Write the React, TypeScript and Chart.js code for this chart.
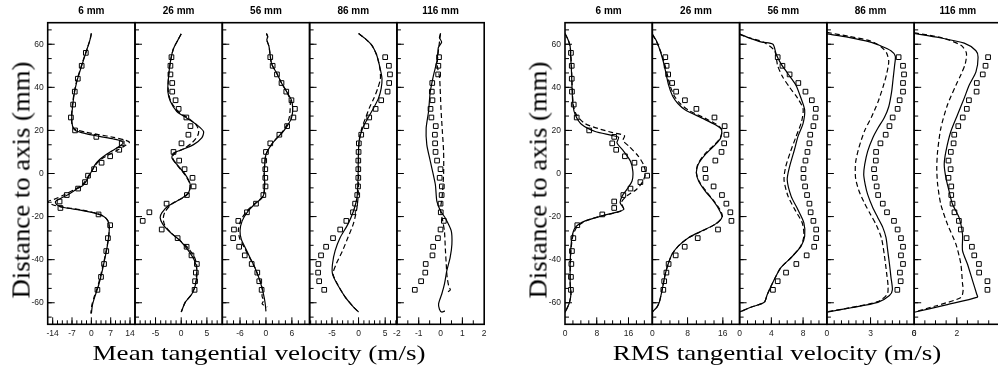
import React, { useEffect, useRef } from 'react';
import { Chart, registerables } from 'chart.js';
Chart.register(...registerables);

// ---------- data ----------
const panelTitles = ['6 mm', '26 mm', '56 mm', '86 mm', '116 mm'];
const yTickLabels = [-60, -40, -20, 0, 20, 40, 60];

const meanRanges = [[-15.8, 15.8], [-9, 8], [-10.1, 10.1], [-9.2, 7.2], [-2, 2]];
const meanTicks = [[-14, -7, 0, 7, 14], [-5, 0, 5], [-6, 0, 6], [-5, 0, 5], [-2, -1, 0, 1, 2]];
const rmsRanges = [[0, 22], [0, 19.8], [0, 11], [0, 6], [0, 4.1]];
const rmsTicks = [[0, 8, 16], [0, 8, 16], [0, 4, 8], [0, 3, 6], [0, 2]];

// measurement heights (mm)
const expYA = [56, 50, 44, 38, 32, 26, 20, 17, 14, 11, 8, 5, 2, -1, -4, -7, -10, -13, -16, -19, -24, -30, -36, -42, -48, -54];
const expYB = [54, 50, 46, 42, 38, 34, 30, 26, 22, 18, 14, 10, 6, 2, -2, -6, -10, -14, -18, -22, -26, -30, -34, -38, -42, -46, -50, -54];

// mean tangential velocity, experiment
const mt6Exp = [-2.0, -3.5, -4.9, -6.0, -6.6, -7.4, -5.9, 1.8, 11.0, 10.1, 6.8, 3.7, 1.0, -1.2, -2.3, -4.8, -8.9, -11.5, -11.2, 2.6, 6.8, 6.0, 5.4, 4.6, 3.5, 2.2];
const mt26Exp = [-1.9, -2.1, -2.1, -1.75, -1.75, -1.1, -0.5, 1.0, 1.8, 1.4, 0.05, -1.5, -0.4, 0.65, 2.2, 2.4, 1.1, -2.85, -6.2, -7.5, -3.8, -0.7, 1.05, 2.0, 3.05, 2.85, 2.7, 2.6];
const mt56Exp = [1.0, 1.55, 2.55, 3.6, 4.7, 5.9, 6.7, 6.35, 4.9, 3.1, 1.0, 0, -0.4, -0.15, -0.15, -0.1, -0.6, -2.3, -4.4, -6.4, -7.4, -7.6, -6.2, -4.9, -3.3, -2.0, -1.55, -1.0];
const mt86Exp = [5.0, 5.7, 5.9, 5.75, 5.45, 4.25, 3.2, 2.0, 1.45, 0.5, 0.05, 0, -0.05, -0.05, -0.05, -0.1, -0.25, -0.65, -1.05, -2.3, -3.45, -4.8, -6.1, -7.05, -7.55, -7.6, -7.4, -6.45];
const mt116Exp = [-0.07, -0.1, -0.11, -0.38, -0.4, -0.37, -0.46, -0.42, -0.22, -0.26, -0.25, -0.23, -0.16, 0.0, -0.04, 0.06, 0.05, 0.0, 0.01, 0.15, 0.0, -0.12, -0.34, -0.37, -0.68, -0.7, -0.89, -1.18];

// mean tangential velocity, simulation (solid) and simulation (dashed): [velocity, height]
const mt6Solid = [[0,65],[-0.5,62],[-1.5,58],[-2.5,54],[-4,48],[-5.2,43],[-6.2,37],[-6.8,31],[-7.1,26],[-6.8,22],[-5.8,20],[-2,18.5],[3,17.2],[8,16],[11,15],[11.5,14],[10,12.5],[7.5,10.5],[5,8.5],[3,6.5],[1.3,4],[0.3,1.5],[-0.8,-1],[-1.8,-3.5],[-3,-5.5],[-5,-7],[-8,-9.5],[-11,-11.5],[-13,-13],[-12.5,-14.5],[-10,-15.8],[-4,-17],[1.5,-18.5],[4.5,-20],[6,-22],[6.5,-25],[6.2,-30],[5.6,-35],[4.8,-40],[3.8,-46],[2.6,-52],[1.3,-57],[0.4,-61],[0,-65]];
const mt6Dash = [[0,65],[-0.5,62],[-1.5,58],[-2.6,54],[-4.1,48],[-5.3,43],[-6.3,37],[-6.9,31],[-7.2,26],[-6.9,22],[-6,20.5],[-2,19.2],[3,18],[8,16.8],[12,15.6],[13.8,14.5],[12,12.8],[9,10.5],[6,8.5],[3.5,6.5],[1.5,4],[0.3,1.5],[-1,-1],[-2.2,-3.5],[-3.5,-5.5],[-6,-7.3],[-10,-10],[-13.5,-12],[-15.8,-13],[-14,-14.5],[-11,-15.5],[-4,-16.8],[1.5,-18.3],[4.5,-19.8],[6,-22],[6.5,-25],[6.2,-30],[5.5,-35],[4.7,-40],[3.6,-46],[2.4,-52],[1.1,-57],[0.2,-61],[-0.2,-65]];
const mt26Solid = [[0,64.8],[-0.5,62.6],[-1.5,58],[-2.1,52],[-2.5,44],[-2.6,38],[-2.1,33.4],[-0.85,28.8],[1.1,25.7],[3.05,22.6],[4.35,19.5],[4.0,16.5],[2.4,13.4],[0.1,11],[-1.5,9.5],[-1.8,7.2],[-0.85,4.2],[0.8,-0.5],[1.75,-5],[1.4,-9],[-0.2,-12],[-2.5,-15],[-3.75,-18.2],[-4.1,-20.5],[-3.6,-23.5],[-2.1,-27.4],[-0.2,-31.2],[1.4,-35.8],[2.6,-40.5],[3.05,-45],[2.85,-51],[2.1,-55.8],[0.8,-59.7],[0,-64.3]];
const mt26Dash = [[0,64.8],[-0.5,62.6],[-1.5,58],[-2.1,52],[-2.5,44],[-2.5,38],[-2.0,33.4],[-0.6,28.8],[1.4,25.7],[2.9,22.6],[3.4,20],[3.2,17.5],[2.2,14.5],[0.5,11.5],[-1.2,9.5],[-1.7,7.5],[-0.9,4.2],[0.7,-0.5],[1.7,-5],[1.5,-9],[0.2,-11.5],[-1.8,-14],[-3.2,-18],[-3.5,-21],[-3.2,-24],[-2.0,-27.5],[-0.3,-31],[1.3,-34.5],[2.5,-38.5],[3.0,-42],[3.0,-46],[2.8,-51],[2.1,-55.8],[0.8,-59.7],[0,-64.3]];
const mt56Solid = [[0.1,65],[0.4,63.5],[0.2,62],[0.7,59],[1.3,51],[2.5,46.5],[3.6,42],[4.8,38],[5.9,34],[6.2,30],[5.9,25.7],[4.9,22],[3.7,18.8],[2.2,15.7],[1.0,12.6],[0.0,8.8],[-0.3,4],[-0.4,-0.5],[-0.3,-5],[-0.5,-9.7],[-1.0,-11.5],[-2.6,-14.3],[-4.1,-17.4],[-5.5,-22],[-6.0,-26.6],[-5.7,-30.6],[-4.9,-34],[-3.7,-39],[-2.6,-43.5],[-1.4,-49.7],[-0.6,-55.8],[-0.2,-60],[0.0,-64]];
const mt56Dash = [[0.1,65],[0.4,63.5],[0.2,62],[0.7,59],[1.3,51],[2.5,46.5],[3.6,42],[4.8,38],[5.6,34],[5.6,30],[5.4,26],[4.7,22],[3.6,18.8],[2.2,15.7],[1.0,12.6],[0.0,8.8],[-0.3,4],[-0.4,-0.5],[-0.3,-5],[-0.5,-9.7],[-1.1,-11.5],[-2.8,-14.3],[-4.4,-17.4],[-5.9,-22],[-6.4,-26.6],[-6.0,-30.6],[-5.1,-34],[-3.8,-39],[-2.6,-43.5],[-1.4,-49.7],[-0.8,-54],[-0.9,-57],[-0.5,-59],[-0.9,-60.5],[0.3,-62]];
const mt86Solid = [[0,65],[1.25,62.6],[2.5,59.5],[3.4,55],[4.05,48.8],[4.4,44],[4.25,39.5],[3.75,35],[2.8,30.3],[1.75,25.7],[0.75,21],[0.1,15],[-0.05,7.2],[-0.1,-2],[-0.3,-11.2],[-0.95,-17.4],[-2.0,-23.5],[-3.45,-29.7],[-4.4,-35.8],[-4.9,-42],[-4.9,-46.6],[-4.05,-51.2],[-2.5,-57.4],[-0.95,-62],[0,-64.3]];
const mt86Dash = [[0,65],[1.25,62.6],[2.5,59.5],[3.4,55],[4.0,48.8],[4.1,44],[3.6,39.5],[2.9,35],[2.0,30.3],[1.3,25.7],[0.6,21],[0.1,15],[0,7.2],[0,-2],[-0.1,-11.2],[-0.4,-17.4],[-1.0,-23.5],[-2.0,-29.7],[-3.0,-35.8],[-4.2,-42],[-4.8,-46.6],[-4.0,-51.2],[-2.5,-57.4],[-0.95,-62],[0,-64.3]];
const mt116Solid = [[0,65],[-0.05,63],[0.05,61],[-0.1,58.5],[-0.12,56.5],[-0.17,52],[-0.32,45.7],[-0.47,38],[-0.55,28.8],[-0.66,21],[-0.63,13.4],[-0.47,5.7],[-0.24,-5],[-0.17,-12.8],[0,-17.4],[0.21,-20.5],[0.49,-26.6],[0.52,-32.8],[0.44,-38.9],[0.29,-45],[0.18,-51.2],[0.06,-55.8],[-0.09,-60.5],[-0.05,-63],[0.05,-64.3],[0.2,-63.8]];
const mt116Dash = [[0,65],[-0.05,61],[-0.12,55],[-0.15,50],[-0.05,45],[-0.02,40],[0.02,30],[0.08,20],[0.14,10],[0.14,0],[0.08,-10],[0.0,-17],[0.1,-22],[0.18,-27],[0.22,-35],[0.26,-42],[0.3,-48],[0.38,-52.5],[0.45,-54],[0.25,-55.5]];

// RMS tangential velocity, experiment
const rms6Exp = [1.5, 1.7, 1.7, 1.75, 2.2, 2.95, 6.1, 12.4, 11.9, 12.9, 15.1, 17.5, 19.9, 20.7, 19.0, 16.5, 14.7, 12.4, 12.4, 9.4, 3.1, 2.1, 1.75, 1.6, 1.5, 1.5];
const rms26Exp = [2.95, 3.25, 3.6, 4.5, 5.4, 7.4, 10.0, 14.1, 16.4, 16.8, 16.3, 15.7, 14.3, 12.0, 12.1, 13.9, 15.8, 16.8, 17.7, 17.95, 14.9, 10.3, 7.35, 5.3, 3.7, 3.2, 2.7, 2.5];
const rms56Exp = [4.8, 5.4, 6.3, 7.4, 8.3, 9.1, 9.6, 9.55, 9.3, 8.9, 8.8, 8.55, 8.3, 8.05, 8.05, 8.25, 8.5, 8.8, 8.95, 9.3, 9.65, 9.65, 9.4, 8.45, 7.15, 5.85, 4.8, 4.2];
const rms86Exp = [4.93, 5.23, 5.3, 5.23, 5.23, 5.0, 4.86, 4.52, 4.3, 4.04, 3.68, 3.38, 3.36, 3.24, 3.29, 3.42, 3.52, 3.84, 4.13, 4.61, 4.86, 5.09, 5.23, 5.09, 5.23, 5.02, 5.07, 4.84];
const rms116Exp = [3.47, 3.35, 3.22, 2.94, 2.93, 2.57, 2.47, 2.28, 2.07, 1.88, 1.85, 1.72, 1.61, 1.71, 1.61, 1.74, 1.74, 1.8, 1.89, 2.1, 2.19, 2.46, 2.71, 2.82, 3.04, 3.05, 3.44, 3.44];

// RMS tangential velocity, simulations
const rms6Solid = [[0,65],[0.8,62],[1.3,59],[1.4,55],[1.6,48.8],[1.75,41],[2.0,31.8],[2.6,27.2],[4.3,22.6],[7.6,19.5],[11.8,17.7],[13.5,16.8],[13.1,14.2],[14.8,10.3],[16.5,5.7],[17.1,1],[16.9,-3.5],[15.6,-7.4],[14.4,-10.5],[13.9,-13.5],[14.8,-16.6],[13.5,-17.7],[9.3,-19.7],[5.1,-22],[2.6,-25],[1.75,-29.7],[1.35,-38.9],[1.3,-51],[1.5,-56],[1.1,-60],[0.4,-63],[0,-64.5]];
const rms6Dash = [[0,65],[0.8,62],[1.3,59],[1.5,55],[1.65,48.8],[1.8,41],[2.1,31.8],[2.9,27.2],[5,23.2],[9,20.5],[12,19],[15,17.5],[14.6,15.3],[16.2,12.5],[18.5,8],[19.8,4],[20.3,0],[19.5,-4],[18,-7.4],[15.5,-10.5],[14.2,-13.5],[14.8,-16.6],[13.5,-17.8],[9.5,-19.6],[5.5,-21.8],[3,-24.8],[1.9,-29.7],[1.4,-38.9],[1.3,-51],[1.5,-56],[1.1,-60],[0.4,-63],[0,-64.5]];
const rms26Solid = [[0,64.8],[0.9,61.7],[2.0,55.6],[2.8,49.4],[3.7,41],[4.6,36],[5.8,32.5],[7.5,29.5],[11.3,25.7],[14.3,22.6],[15.7,20.3],[15.5,16.5],[14.3,13.4],[12.0,8.8],[10.4,4.2],[10.0,0.3],[10.5,-3.5],[12.0,-8.2],[13.9,-12.8],[15.1,-16.6],[15.8,-20.2],[14.3,-23.5],[11.3,-26.6],[8.3,-29.7],[6.0,-33.5],[4.5,-37.4],[3.6,-42],[2.95,-46.6],[2.2,-54.3],[1.6,-59.7],[1.05,-62],[0,-64.3]];
const rms26Dash = [[0,64.5],[0.9,61.5],[2.1,55.5],[3.0,49.4],[4.0,41],[5.0,36],[6.3,32.5],[8.1,29.5],[11.9,25.7],[14.7,22.6],[15.8,20.3],[15.4,16.5],[14.1,13.4],[11.8,8.8],[10.3,4.2],[10.0,0.3],[10.6,-3.5],[12.2,-8.2],[14.0,-12.8],[15.3,-16.6],[15.9,-20],[14.5,-23.3],[11.4,-26.6],[8.3,-29.7],[6.0,-33.5],[4.5,-37.4],[3.6,-42],[2.95,-46.6],[2.2,-54.3],[1.6,-59.7],[1.05,-62],[0,-64.3]];
const rms56Solid = [[0,64.8],[1.0,63.2],[2.8,61],[4.2,60],[4.6,55.5],[5.2,51],[6.1,46.3],[7.1,41],[7.75,34.8],[8.2,29.4],[8.0,23.3],[7.35,17.1],[6.9,10.9],[6.3,3.2],[6.0,-2.9],[6.5,-10.6],[7.35,-16.8],[8.1,-22.9],[8.2,-29.1],[7.75,-33.7],[6.5,-39],[5.2,-43.7],[4.4,-49],[3.5,-56],[3.1,-59.8],[1.5,-62],[0,-64.3]];
const rms56Dash = [[0,64.5],[1.2,63],[3.0,61],[4.4,57],[4.8,50],[5.4,45],[6.3,40],[7.3,35],[8.0,30],[7.8,24],[7.1,17],[6.4,10],[5.8,3],[5.6,-3],[6.1,-10.5],[7.0,-17],[7.9,-23],[8.1,-29],[7.7,-33.7],[6.5,-39],[5.2,-43.7],[4.4,-49],[3.5,-56],[3.1,-59.8],[1.5,-62],[0,-64.3]];
const rms86Solid = [[0,64.8],[1.5,63.2],[3.0,61],[3.6,59.5],[4.4,57],[4.7,54.5],[4.65,50],[4.55,44],[4.45,38],[4.25,31],[3.95,26],[3.5,21],[3.15,16.5],[2.8,10.3],[2.6,4.2],[2.53,-0.5],[2.63,-5],[2.8,-9.7],[3.15,-15.8],[3.5,-20.5],[3.84,-25],[4.06,-29.7],[4.18,-35.8],[4.3,-42],[4.4,-48],[4.5,-54],[4.3,-56.6],[3.5,-59.8],[1.5,-62.5],[0,-64.4]];
const rms86Dash = [[0,65.5],[1.5,63.7],[3.0,61.5],[3.7,59],[4.1,56],[4.25,52],[4.1,46],[3.85,40],[3.5,33],[3.05,26],[2.6,20],[2.2,12],[1.97,5],[1.97,-2],[2.2,-8],[2.6,-14],[3.0,-19],[3.4,-24],[3.75,-30],[3.95,-38],[4.1,-46],[4.2,-52],[4.15,-56],[3.5,-59.5],[1.6,-62.3],[0,-64.2]];
const rms116Solid = [[0,65],[1.2,63],[2.35,60.5],[2.9,57],[3.0,54],[2.9,47.2],[2.58,41],[2.35,35],[2.03,27.2],[1.72,19.5],[1.49,10.3],[1.41,4.2],[1.49,-2],[1.64,-8.2],[1.8,-14.3],[2.11,-20.5],[2.27,-28.2],[2.27,-35.8],[2.5,-42],[2.74,-49.7],[2.93,-55.8],[2.97,-57.4],[1.5,-61],[0,-64.4]];
const rms116Dash = [[0,65.3],[1.3,63],[2.2,59.5],[2.45,56],[2.4,51],[2.2,46],[1.96,41],[1.56,31.8],[1.25,21],[1.1,10.3],[1.06,2.6],[1.1,-5],[1.25,-14.3],[1.56,-23.5],[1.96,-32.8],[2.19,-42],[2.27,-51.2],[2.3,-54],[2.2,-57.5],[1.0,-61.5],[0,-64.3]];

const meanSeries = [
  [mt6Exp, expYA, mt6Solid, mt6Dash],
  [mt26Exp, expYB, mt26Solid, mt26Dash],
  [mt56Exp, expYB, mt56Solid, mt56Dash],
  [mt86Exp, expYB, mt86Solid, mt86Dash],
  [mt116Exp, expYB, mt116Solid, mt116Dash],
];
const rmsSeries = [
  [rms6Exp, expYA, rms6Solid, rms6Dash],
  [rms26Exp, expYB, rms26Solid, rms26Dash],
  [rms56Exp, expYB, rms56Solid, rms56Dash],
  [rms86Exp, expYB, rms86Solid, rms86Dash],
  [rms116Exp, expYB, rms116Solid, rms116Dash],
];
const meanMinorStep = [1.75, 1, 1.5, 1, 0.5];
const rmsMinorStep = [2, 2, 1, 0.5, 0.5];

// ---------- layout ----------
const PW = 87.3;
const PLOT_TOP = 22.7;
const PLOT_BOTTOM = 324.3;
const H = 369;
const X_AXIS_H = 14;
const Y_AXIS_W = 36;
const SIDE = 14;

function steps(min: number, max: number, step: number) {
  const out: number[] = [];
  const start = Math.ceil(min / step - 1e-9) * step;
  for (let v = start; v <= max + 1e-9; v += step) out.push(+v.toFixed(4));
  return out;
}

const framePlugin = {
  id: 'panelFrame',
  afterDatasetsDraw(chart: any, _args: any, opts: any) {
    const { ctx, chartArea: a } = chart;
    const xs = chart.scales.x;
    const ys = chart.scales.y;
    ctx.save();
    ctx.strokeStyle = '#000';
    ctx.lineWidth = 1;
    ctx.beginPath();
    const drawX = (vals: number[], len: number) => {
      for (const v of vals) {
        const p = xs.getPixelForValue(v);
        if (p < a.left + 0.5 || p > a.right - 0.5) continue;
        ctx.moveTo(p, a.bottom);
        ctx.lineTo(p, a.bottom - len);
      }
    };
    const drawY = (vals: number[], len: number) => {
      for (const v of vals) {
        const p = ys.getPixelForValue(v);
        if (p < a.top + 0.5 || p > a.bottom - 0.5) continue;
        ctx.moveTo(a.left, p);
        ctx.lineTo(a.left + len, p);
      }
    };
    drawX(opts.xMajor, 7);
    drawX(opts.xMinor, 4);
    drawY(opts.yMajor, 7);
    drawY(opts.yMinor, 4);
    ctx.stroke();
    ctx.lineWidth = 1.6;
    ctx.strokeRect(a.left, a.top, a.right - a.left, a.bottom - a.top);
    ctx.restore();
  },
};

type Spec = {
  key: string;
  panelLeft: number;
  first: boolean;
  title: string;
  range: number[];
  ticks: number[];
  minor: number;
  exp: number[];
  expY: number[];
  solid: number[][];
  dash: number[][];
};

function buildSpecs(groupLeft: number, ranges: number[][], ticks: number[][], minor: number[], series: any[], key: string): Spec[] {
  return series.map((s, i) => ({
    key: key + i,
    panelLeft: groupLeft + i * PW,
    first: i === 0,
    title: panelTitles[i],
    range: ranges[i],
    ticks: ticks[i],
    minor: minor[i],
    exp: s[0],
    expY: s[1],
    solid: s[2],
    dash: s[3],
  }));
}

const specs: Spec[] = [
  ...buildSpecs(47.7, meanRanges, meanTicks, meanMinorStep, meanSeries, 'm'),
  ...buildSpecs(565, rmsRanges, rmsTicks, rmsMinorStep, rmsSeries, 'r'),
];

const tickFont = { family: '"Liberation Sans", Arial, sans-serif', size: 8.5 };

function Panel({ spec }: { spec: Spec }) {
  const ref = useRef<HTMLCanvasElement>(null);
  const yW = spec.first ? Y_AXIS_W : 0;
  const canvasLeft = Math.floor(spec.panelLeft - yW - SIDE);
  const padLeft = spec.panelLeft - yW - canvasLeft;
  const canvasWidth = Math.ceil(spec.panelLeft + PW + SIDE) - canvasLeft;
  const padRight = canvasLeft + canvasWidth - (spec.panelLeft + PW);

  useEffect(() => {
    if (!ref.current) return;
    const [xmin, xmax] = spec.range;
    const chart = new Chart(ref.current, {
      type: 'scatter',
      data: {
        datasets: [
          {
            data: spec.solid.map(([x, y]) => ({ x, y })),
            showLine: true,
            borderColor: '#000',
            borderWidth: 1.2,
            pointRadius: 0,
            tension: 0.25,
          },
          {
            data: spec.dash.map(([x, y]) => ({ x, y })),
            showLine: true,
            borderColor: '#000',
            borderWidth: 1.2,
            borderDash: [5, 3],
            pointRadius: 0,
            tension: 0.25,
          },
          {
            data: spec.exp.map((x, i) => ({ x, y: spec.expY[i] })),
            showLine: false,
            pointStyle: 'rect',
            pointRadius: 3.3,
            borderWidth: 1,
            borderColor: '#000',
            backgroundColor: 'rgba(0,0,0,0)',
          },
        ] as any,
      },
      options: {
        animation: false,
        responsive: false,
        maintainAspectRatio: false,
        events: [],
        layout: { padding: { left: padLeft, right: padRight, top: 0, bottom: H - PLOT_BOTTOM - X_AXIS_H } },
        plugins: {
          legend: { display: false },
          tooltip: { enabled: false },
          title: {
            display: true,
            text: spec.title,
            fullSize: false,
            color: '#000',
            font: { family: '"Liberation Sans", Arial, sans-serif', size: 10, weight: 'bold', lineHeight: 1.2 },
            padding: { top: 5.7, bottom: PLOT_TOP - 5.7 - 12 },
          },
          panelFrame: {
            xMajor: spec.ticks,
            xMinor: steps(xmin, xmax, spec.minor),
            yMajor: yTickLabels,
            yMinor: steps(-70, 70, 20 / 3),
          },
        } as any,
        scales: {
          x: {
            type: 'linear',
            min: xmin,
            max: xmax,
            afterBuildTicks: (s: any) => { s.ticks = spec.ticks.map((v) => ({ value: v })); },
            afterFit: (s: any) => { s.height = X_AXIS_H; },
            grid: { display: false, drawTicks: false },
            border: { display: false },
            ticks: {
              autoSkip: false,
              maxRotation: 0,
              padding: 4,
              color: '#222',
              font: tickFont,
              callback: (v: any) => String(v),
            },
          },
          y: {
            type: 'linear',
            min: -70,
            max: 70,
            display: spec.first,
            afterBuildTicks: (s: any) => { s.ticks = yTickLabels.map((v) => ({ value: v })); },
            ...(spec.first ? { afterFit: (s: any) => { s.width = Y_AXIS_W; } } : {}),
            grid: { display: false, drawTicks: false },
            border: { display: false },
            ticks: {
              autoSkip: false,
              padding: 4,
              color: '#222',
              font: tickFont,
              callback: (v: any) => String(v),
            },
          },
        },
      } as any,
      plugins: [framePlugin],
    });
    return () => chart.destroy();
  }, []);

  return (
    <canvas
      ref={ref}
      width={canvasWidth}
      height={H}
      style={{ position: 'absolute', left: canvasLeft, top: 0, width: canvasWidth, height: H }}
    />
  );
}

const serif = '"Liberation Serif", "Times New Roman", serif';

function AxisTitle({ text, x, y, rotate, size, stretch }: { text: string; x: number; y: number; rotate?: boolean; size: number; stretch: number }) {
  return (
    <div
      style={{
        position: 'absolute',
        left: x,
        top: y,
        fontFamily: serif,
        fontSize: size,
        lineHeight: `${size}px`,
        whiteSpace: 'nowrap',
        color: '#000',
        transform: `translate(-50%, -50%) ${rotate ? 'rotate(-90deg) ' : ''}scaleX(${stretch})`,
      }}
    >
      {text}
    </div>
  );
}

export default function App() {
  useEffect(() => {
    document.body.style.margin = '0';
    document.body.style.background = '#fff';
  }, []);
  return (
    <div style={{ position: 'relative', width: 998, height: H, overflow: 'hidden', background: '#fff' }}>
      {specs.map((s) => (
        <Panel key={s.key} spec={s} />
      ))}
      <AxisTitle text="Distance to axis (mm)" x={21} y={180} rotate size={25} stretch={1.07} />
      <AxisTitle text="Distance to axis (mm)" x={538} y={180} rotate size={25} stretch={1.07} />
      <AxisTitle text="Mean tangential velocity (m/s)" x={259} y={353} size={22} stretch={1.23} />
      <AxisTitle text="RMS tangential velocity (m/s)" x={777} y={353} size={22} stretch={1.23} />
    </div>
  );
}
